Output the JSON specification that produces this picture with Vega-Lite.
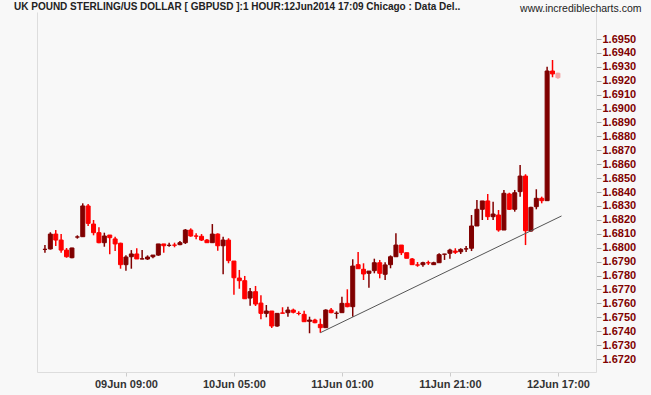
{
  "$schema": "https://vega.github.io/schema/vega-lite/v6.json",
  "width": 559,
  "height": 360,
  "autosize": {"type": "none"},
  "padding": {"left": 37, "top": 12, "right": 55, "bottom": 23},
  "background": "#f8f8f8",
  "config": {"view": {"stroke": null}, "font": "Liberation Sans"},
  "title": {
    "text": "UK POUND STERLING/US DOLLAR [ GBPUSD ]:1 HOUR:12Jun2014 17:09 Chicago : Data Del..",
    "anchor": "start",
    "frame": "group",
    "dx": -23,
    "dy": 9,
    "offset": 0,
    "font": "Liberation Sans",
    "fontSize": 10,
    "fontWeight": "bold",
    "color": "#222222"
  },
  "datasets": {
    "candles": [
      {"time": "2014-06-08T18:00", "open": 1.67988, "high": 1.68019, "low": 1.67964, "close": 1.67988},
      {"time": "2014-06-08T19:00", "open": 1.67991, "high": 1.68111, "low": 1.67987, "close": 1.68098},
      {"time": "2014-06-08T20:00", "open": 1.68098, "high": 1.68127, "low": 1.68012, "close": 1.68055},
      {"time": "2014-06-08T21:00", "open": 1.68055, "high": 1.68098, "low": 1.67964, "close": 1.67983},
      {"time": "2014-06-08T22:00", "open": 1.67983, "high": 1.67998, "low": 1.67928, "close": 1.67935},
      {"time": "2014-06-08T23:00", "open": 1.67928, "high": 1.68000, "low": 1.67925, "close": 1.67998},
      {"time": "2014-06-09T00:00", "open": 1.68077, "high": 1.68089, "low": 1.68065, "close": 1.68077},
      {"time": "2014-06-09T01:00", "open": 1.68079, "high": 1.68319, "low": 1.68077, "close": 1.68300},
      {"time": "2014-06-09T02:00", "open": 1.68300, "high": 1.68314, "low": 1.68156, "close": 1.68175},
      {"time": "2014-06-09T03:00", "open": 1.68170, "high": 1.68199, "low": 1.68089, "close": 1.68108},
      {"time": "2014-06-09T04:00", "open": 1.68108, "high": 1.68147, "low": 1.68032, "close": 1.68036},
      {"time": "2014-06-09T05:00", "open": 1.68036, "high": 1.68108, "low": 1.68007, "close": 1.68084},
      {"time": "2014-06-09T06:00", "open": 1.68091, "high": 1.68091, "low": 1.67953, "close": 1.68072},
      {"time": "2014-06-09T07:00", "open": 1.68063, "high": 1.68079, "low": 1.67976, "close": 1.68027},
      {"time": "2014-06-09T08:00", "open": 1.68032, "high": 1.68036, "low": 1.67849, "close": 1.67878},
      {"time": "2014-06-09T09:00", "open": 1.67878, "high": 1.67945, "low": 1.67835, "close": 1.67933},
      {"time": "2014-06-09T10:00", "open": 1.67935, "high": 1.67983, "low": 1.67849, "close": 1.67955},
      {"time": "2014-06-09T11:00", "open": 1.67955, "high": 1.67996, "low": 1.67919, "close": 1.67919},
      {"time": "2014-06-09T12:00", "open": 1.67919, "high": 1.67983, "low": 1.67917, "close": 1.67920},
      {"time": "2014-06-09T13:00", "open": 1.67919, "high": 1.67945, "low": 1.67912, "close": 1.67933},
      {"time": "2014-06-09T14:00", "open": 1.67935, "high": 1.67947, "low": 1.67924, "close": 1.67947},
      {"time": "2014-06-09T15:00", "open": 1.67947, "high": 1.68027, "low": 1.67942, "close": 1.68027},
      {"time": "2014-06-09T16:00", "open": 1.68027, "high": 1.68027, "low": 1.67964, "close": 1.68014},
      {"time": "2014-06-09T17:00", "open": 1.68017, "high": 1.68036, "low": 1.68007, "close": 1.68017},
      {"time": "2014-06-09T18:00", "open": 1.68019, "high": 1.68036, "low": 1.68003, "close": 1.68018},
      {"time": "2014-06-09T19:00", "open": 1.68022, "high": 1.68048, "low": 1.68017, "close": 1.68036},
      {"time": "2014-06-09T20:00", "open": 1.68036, "high": 1.68134, "low": 1.68027, "close": 1.68127},
      {"time": "2014-06-09T21:00", "open": 1.68127, "high": 1.68139, "low": 1.68079, "close": 1.68084},
      {"time": "2014-06-09T22:00", "open": 1.68084, "high": 1.68103, "low": 1.68060, "close": 1.68083},
      {"time": "2014-06-09T23:00", "open": 1.68082, "high": 1.68098, "low": 1.68048, "close": 1.68055},
      {"time": "2014-06-10T00:00", "open": 1.68055, "high": 1.68063, "low": 1.68036, "close": 1.68036},
      {"time": "2014-06-10T01:00", "open": 1.68036, "high": 1.68170, "low": 1.68036, "close": 1.68098},
      {"time": "2014-06-10T02:00", "open": 1.68098, "high": 1.68103, "low": 1.67978, "close": 1.68014},
      {"time": "2014-06-10T03:00", "open": 1.68014, "high": 1.68079, "low": 1.67809, "close": 1.68055},
      {"time": "2014-06-10T04:00", "open": 1.68055, "high": 1.68068, "low": 1.67888, "close": 1.67907},
      {"time": "2014-06-10T05:00", "open": 1.67904, "high": 1.67904, "low": 1.67662, "close": 1.67784},
      {"time": "2014-06-10T06:00", "open": 1.67782, "high": 1.67840, "low": 1.67705, "close": 1.67763},
      {"time": "2014-06-10T07:00", "open": 1.67763, "high": 1.67797, "low": 1.67633, "close": 1.67633},
      {"time": "2014-06-10T08:00", "open": 1.67638, "high": 1.67710, "low": 1.67583, "close": 1.67684},
      {"time": "2014-06-10T09:00", "open": 1.67684, "high": 1.67725, "low": 1.67581, "close": 1.67595},
      {"time": "2014-06-10T10:00", "open": 1.67602, "high": 1.67658, "low": 1.67485, "close": 1.67528},
      {"time": "2014-06-10T11:00", "open": 1.67528, "high": 1.67588, "low": 1.67500, "close": 1.67545},
      {"time": "2014-06-10T12:00", "open": 1.67545, "high": 1.67545, "low": 1.67423, "close": 1.67437},
      {"time": "2014-06-10T13:00", "open": 1.67437, "high": 1.67528, "low": 1.67432, "close": 1.67528},
      {"time": "2014-06-10T14:00", "open": 1.67531, "high": 1.67572, "low": 1.67527, "close": 1.67529},
      {"time": "2014-06-10T15:00", "open": 1.67533, "high": 1.67576, "low": 1.67504, "close": 1.67552},
      {"time": "2014-06-10T16:00", "open": 1.67552, "high": 1.67562, "low": 1.67528, "close": 1.67536},
      {"time": "2014-06-10T17:00", "open": 1.67528, "high": 1.67543, "low": 1.67514, "close": 1.67527},
      {"time": "2014-06-10T18:00", "open": 1.67521, "high": 1.67547, "low": 1.67468, "close": 1.67468},
      {"time": "2014-06-10T19:00", "open": 1.67471, "high": 1.67504, "low": 1.67385, "close": 1.67480},
      {"time": "2014-06-10T20:00", "open": 1.67480, "high": 1.67490, "low": 1.67457, "close": 1.67461},
      {"time": "2014-06-10T21:00", "open": 1.67449, "high": 1.67490, "low": 1.67389, "close": 1.67425},
      {"time": "2014-06-10T22:00", "open": 1.67425, "high": 1.67557, "low": 1.67425, "close": 1.67552},
      {"time": "2014-06-10T23:00", "open": 1.67552, "high": 1.67567, "low": 1.67528, "close": 1.67533},
      {"time": "2014-06-11T00:00", "open": 1.67528, "high": 1.67543, "low": 1.67490, "close": 1.67529},
      {"time": "2014-06-11T01:00", "open": 1.67533, "high": 1.67648, "low": 1.67533, "close": 1.67600},
      {"time": "2014-06-11T02:00", "open": 1.67600, "high": 1.67701, "low": 1.67572, "close": 1.67576},
      {"time": "2014-06-11T03:00", "open": 1.67576, "high": 1.67917, "low": 1.67504, "close": 1.67868},
      {"time": "2014-06-11T04:00", "open": 1.67878, "high": 1.67969, "low": 1.67849, "close": 1.67849},
      {"time": "2014-06-11T05:00", "open": 1.67845, "high": 1.67888, "low": 1.67768, "close": 1.67811},
      {"time": "2014-06-11T06:00", "open": 1.67816, "high": 1.67832, "low": 1.67712, "close": 1.67832},
      {"time": "2014-06-11T07:00", "open": 1.67835, "high": 1.67921, "low": 1.67816, "close": 1.67892},
      {"time": "2014-06-11T08:00", "open": 1.67892, "high": 1.67912, "low": 1.67780, "close": 1.67816},
      {"time": "2014-06-11T09:00", "open": 1.67809, "high": 1.67895, "low": 1.67768, "close": 1.67876},
      {"time": "2014-06-11T10:00", "open": 1.67878, "high": 1.67945, "low": 1.67852, "close": 1.67935},
      {"time": "2014-06-11T11:00", "open": 1.67935, "high": 1.68103, "low": 1.67935, "close": 1.68019},
      {"time": "2014-06-11T12:00", "open": 1.68019, "high": 1.68019, "low": 1.67947, "close": 1.67964},
      {"time": "2014-06-11T13:00", "open": 1.67964, "high": 1.67964, "low": 1.67924, "close": 1.67924},
      {"time": "2014-06-11T14:00", "open": 1.67919, "high": 1.67926, "low": 1.67876, "close": 1.67878},
      {"time": "2014-06-11T15:00", "open": 1.67876, "high": 1.67897, "low": 1.67863, "close": 1.67875},
      {"time": "2014-06-11T16:00", "open": 1.67878, "high": 1.67899, "low": 1.67863, "close": 1.67892},
      {"time": "2014-06-11T17:00", "open": 1.67892, "high": 1.67907, "low": 1.67876, "close": 1.67891},
      {"time": "2014-06-11T18:00", "open": 1.67878, "high": 1.67899, "low": 1.67876, "close": 1.67892},
      {"time": "2014-06-11T19:00", "open": 1.67892, "high": 1.67960, "low": 1.67892, "close": 1.67950},
      {"time": "2014-06-11T20:00", "open": 1.67953, "high": 1.67956, "low": 1.67912, "close": 1.67954},
      {"time": "2014-06-11T21:00", "open": 1.67960, "high": 1.67993, "low": 1.67921, "close": 1.67983},
      {"time": "2014-06-11T22:00", "open": 1.67976, "high": 1.67996, "low": 1.67955, "close": 1.67967},
      {"time": "2014-06-11T23:00", "open": 1.67971, "high": 1.67996, "low": 1.67955, "close": 1.67988},
      {"time": "2014-06-12T00:00", "open": 1.67991, "high": 1.68012, "low": 1.67969, "close": 1.67992},
      {"time": "2014-06-12T01:00", "open": 1.67996, "high": 1.68235, "low": 1.67976, "close": 1.68156},
      {"time": "2014-06-12T02:00", "open": 1.68156, "high": 1.68343, "low": 1.68156, "close": 1.68276},
      {"time": "2014-06-12T03:00", "open": 1.68276, "high": 1.68336, "low": 1.68199, "close": 1.68336},
      {"time": "2014-06-12T04:00", "open": 1.68336, "high": 1.68386, "low": 1.68199, "close": 1.68223},
      {"time": "2014-06-12T05:00", "open": 1.68223, "high": 1.68331, "low": 1.68199, "close": 1.68242},
      {"time": "2014-06-12T06:00", "open": 1.68235, "high": 1.68271, "low": 1.68115, "close": 1.68127},
      {"time": "2014-06-12T07:00", "open": 1.68127, "high": 1.68415, "low": 1.68127, "close": 1.68391},
      {"time": "2014-06-12T08:00", "open": 1.68386, "high": 1.68395, "low": 1.68271, "close": 1.68276},
      {"time": "2014-06-12T09:00", "open": 1.68276, "high": 1.68415, "low": 1.68259, "close": 1.68395},
      {"time": "2014-06-12T10:00", "open": 1.68403, "high": 1.68594, "low": 1.68367, "close": 1.68515},
      {"time": "2014-06-12T11:00", "open": 1.68515, "high": 1.68528, "low": 1.68019, "close": 1.68122},
      {"time": "2014-06-12T12:00", "open": 1.68120, "high": 1.68295, "low": 1.68115, "close": 1.68290},
      {"time": "2014-06-12T13:00", "open": 1.68295, "high": 1.68420, "low": 1.68276, "close": 1.68355},
      {"time": "2014-06-12T14:00", "open": 1.68355, "high": 1.68367, "low": 1.68319, "close": 1.68338},
      {"time": "2014-06-12T15:00", "open": 1.68338, "high": 1.69301, "low": 1.68338, "close": 1.69270},
      {"time": "2014-06-12T16:00", "open": 1.69270, "high": 1.69349, "low": 1.69225, "close": 1.69249},
      {"time": "2014-06-12T17:00", "open": 1.69254, "high": 1.69258, "low": 1.69215, "close": 1.69222, "live": true}
    ],
    "trend": [
      {"time": "2014-06-10T21:00", "price": 1.67389},
      {"time": "2014-06-12T17:40", "price": 1.68228}
    ]
  },
  "encoding": {
    "x": {
      "field": "time", "type": "temporal",
      "scale": {"domain": [
        {"year": 2014, "month": 6, "date": 8, "hours": 17, "minutes": 27, "seconds": 16},
        {"year": 2014, "month": 6, "date": 12, "hours": 23, "minutes": 7, "seconds": 37}
      ]},
      "axis": {
        "values": [
          {"year": 2014, "month": 6, "date": 9, "hours": 9},
          {"year": 2014, "month": 6, "date": 10, "hours": 5},
          {"year": 2014, "month": 6, "date": 11, "hours": 1},
          {"year": 2014, "month": 6, "date": 11, "hours": 21},
          {"year": 2014, "month": 6, "date": 12, "hours": 17}
        ],
        "format": "%d%b %H:%M",
        "title": null,
        "grid": false,
        "labelColor": "#333333",
        "labelFontWeight": "bold",
        "labelFontSize": 11,
        "labelFont": "Liberation Sans",
        "labelPadding": 2,
        "labelFlush": false,
        "tickSize": 4,
        "tickColor": "#cccccc",
        "domainColor": "#dddddd"
      }
    }
  },
  "layer": [
    {
      "data": {"name": "candles"},
      "mark": {"type": "rule", "strokeWidth": 1.5},
      "encoding": {
        "y": {
          "field": "low", "type": "quantitative",
          "scale": {"domain": [1.671066, 1.696941], "nice": false, "zero": false},
          "axis": {
            "orient": "right",
            "values": [1.672, 1.673, 1.674, 1.675, 1.676, 1.677, 1.678, 1.679, 1.68, 1.681, 1.682, 1.683, 1.684, 1.685, 1.686, 1.687, 1.688, 1.689, 1.69, 1.691, 1.692, 1.693, 1.694, 1.695],
            "format": ".4f",
            "grid": false,
            "labelColor": "#800000",
            "labelFontWeight": "bold",
            "labelFontSize": 11,
            "labelFont": "Liberation Sans",
            "labelPadding": 1,
            "tickSize": 5,
            "tickColor": "#aaaaaa",
            "domainColor": "#dddddd",
            "title": "www.incrediblecharts.com",
            "titleAngle": 0,
            "titleAlign": "right",
            "titleBaseline": "middle",
            "titleX": 45,
            "titleY": -4,
            "titleFont": "Liberation Sans",
            "titleFontSize": 10.5,
            "titleFontWeight": "normal",
            "titleColor": "#222222"
          }
        },
        "y2": {"field": "high"},
        "color": {
          "condition": [
            {"test": "datum.live", "value": "#f5a3a3"},
            {"test": "datum.close >= datum.open", "value": "#800000"}
          ],
          "value": "#ff0000"
        }
      }
    },
    {
      "data": {"name": "candles"},
      "mark": {"type": "bar", "size": 4, "strokeWidth": 1},
      "encoding": {
        "y": {"field": "open", "type": "quantitative", "axis": null},
        "y2": {"field": "close"},
        "color": {
          "condition": [
            {"test": "datum.live", "value": "#f5a3a3"},
            {"test": "datum.close >= datum.open", "value": "#800000"}
          ],
          "value": "#ff0000"
        },
        "stroke": {
          "condition": [
            {"test": "datum.live", "value": "#f5a3a3"},
            {"test": "datum.close >= datum.open", "value": "#800000"}
          ],
          "value": "#ff0000"
        }
      }
    },
    {
      "data": {"name": "trend"},
      "mark": {"type": "line", "color": "#555555", "strokeWidth": 1},
      "encoding": {
        "y": {
          "field": "price", "type": "quantitative",
          "axis": {"orient": "left", "labels": false, "ticks": false, "title": null, "grid": false, "domainColor": "#dddddd"}
        }
      }
    }
  ]
}
